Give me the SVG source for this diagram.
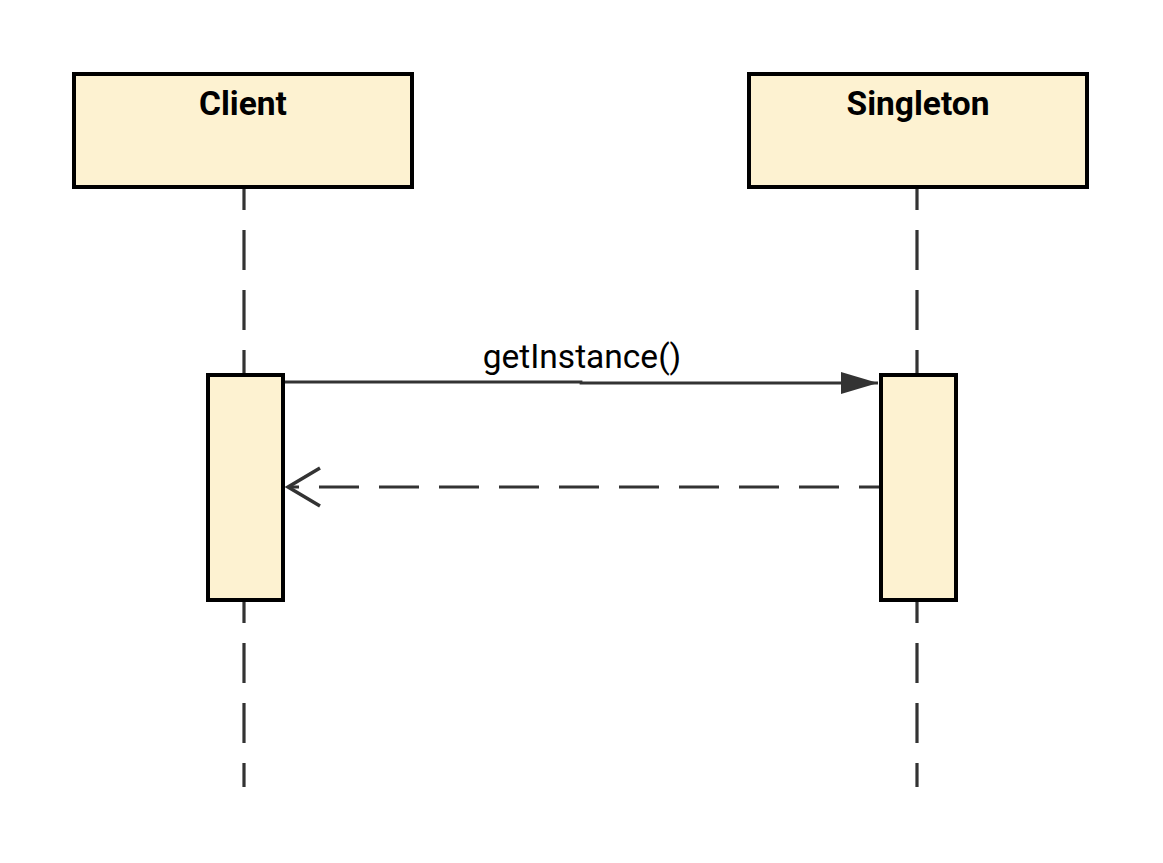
<svg xmlns="http://www.w3.org/2000/svg" width="1163" height="863" viewBox="0 0 1163 863">
<style>
.box{fill:#fdf2d1;stroke:#000;stroke-width:4}
.title{font-family:Roboto,"Liberation Sans",sans-serif;font-weight:bold;font-size:33.5px;fill:#000;text-anchor:middle}
.lbl{font-family:Roboto,"Liberation Sans",sans-serif;font-size:33.5px;fill:#000;text-anchor:middle}
.life{stroke:#333;stroke-width:3.2;fill:none;stroke-dasharray:40 20}
.msg{stroke:#333;stroke-width:2.8;fill:none}
</style>
<defs>
<marker id="filled" markerUnits="userSpaceOnUse" markerWidth="40" markerHeight="24" refX="37" refY="11" orient="auto">
<path d="M0,0 L37,11 L0,22 Z" fill="#333"/>
</marker>
</defs>
<rect width="1163" height="863" fill="#fff"/>
<g id="connectors">
<line class="life" x1="244" y1="188" x2="244" y2="374" stroke-dashoffset="18"/>
<line class="life" x1="244" y1="600" x2="244" y2="787" stroke-dashoffset="17"/>
<line class="life" x1="917" y1="188" x2="917" y2="374" stroke-dashoffset="18"/>
<line class="life" x1="917" y1="600" x2="917" y2="787" stroke-dashoffset="17"/>
<path class="msg" d="M284,382 L581,382 L581,383 L878,383" marker-end="url(#filled)"/>
<text class="lbl" x="582" y="368">getInstance()</text>
<line class="msg" x1="880" y1="487" x2="288" y2="487" stroke-dasharray="40 20" stroke-dashoffset="19" stroke-width="3"/>
<path d="M320,468 L288,487 L320,506" fill="none" stroke="#333" stroke-width="3.5"/>
</g>
<g id="client">
<rect class="box" x="74" y="74" width="338" height="113"/>
<text class="title" x="243" y="115">Client</text>
</g>
<g id="singleton">
<rect class="box" x="749" y="74" width="338" height="113"/>
<text class="title" x="918" y="115">Singleton</text>
</g>
<g id="client-activation">
<rect class="box" x="208" y="375" width="75" height="225"/>
</g>
<g id="singleton-activation">
<rect class="box" x="881" y="375" width="75" height="225"/>
</g>
</svg>
